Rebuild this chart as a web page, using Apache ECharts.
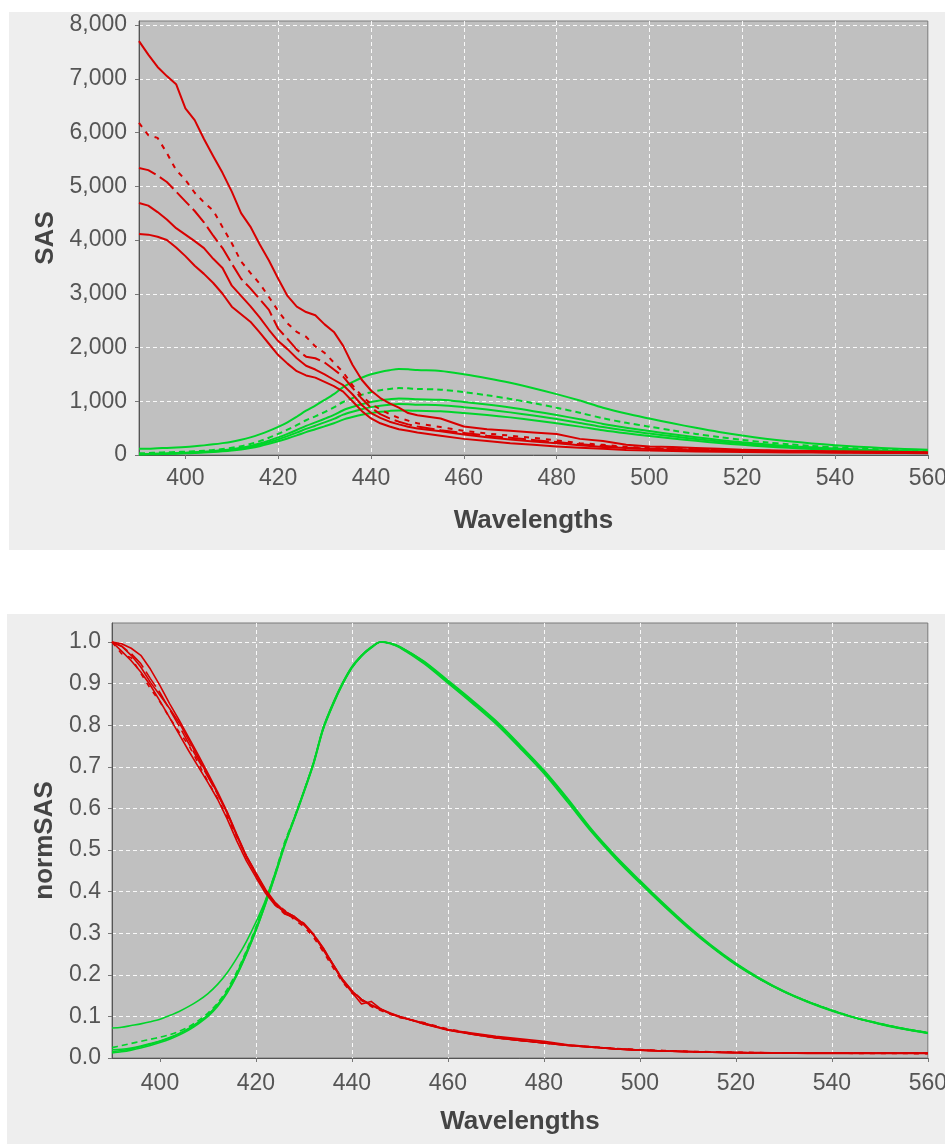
<!DOCTYPE html>
<html>
<head>
<meta charset="utf-8">
<script src="https://cdn.jsdelivr.net/npm/echarts@6/dist/echarts.min.js"></script>
<style>
html,body{margin:0;padding:0;background:#ffffff;}
#chart{width:950px;height:1144px;}
</style>
</head>
<body>
<div id="chart"></div>
<script>
// Wavelength grid shared by all series
const wavelengths = [390,392,394,396,398,400,402,404,406,408,410,412,414,416,418,420,422,424,426,428,430,432,434,436,438,440,442,444,446,448,450,
  455,460,465,470,475,480,485,490,495,500,505,510,515,520,525,530,535,540,545,550,555,560];

const xTicks = [400,420,440,460,480,500,520,540,560];

// ---- Top chart: SAS ----
const sasRed1 = [7700,7450,7220,7050,6900,6450,6230,5880,5560,5250,4900,4500,4250,3920,3620,3280,2960,2760,2660,2600,2430,2290,2030,1680,1400,1200,1060,960,880,780,740,
  680,530,480,450,420,390,300,260,190,160,150,130,115,100,90,80,75,70,65,60,55,50];
const sasRed2 = [6180,5950,5900,5620,5300,5120,4880,4700,4550,4240,3940,3600,3390,3190,2940,2680,2450,2290,2200,2020,1900,1720,1540,1300,1100,950,850,760,690,640,590,
  520,450,400,360,320,270,220,190,150,130,120,110,100,90,80,70,65,60,55,50,45,40];
const sasRed3 = [5340,5300,5200,5080,4900,4720,4540,4330,4080,3850,3560,3280,3100,2900,2700,2350,2160,1960,1830,1800,1720,1590,1460,1250,1050,880,760,680,620,570,530,
  460,410,360,320,280,240,200,170,140,120,110,100,90,80,75,70,60,55,50,45,40,40];
const sasRed4 = [4690,4640,4520,4380,4220,4100,3980,3850,3650,3480,3150,2960,2770,2560,2330,2120,1970,1800,1660,1590,1500,1400,1300,1130,930,780,690,620,570,525,495,
  440,380,330,290,250,220,180,150,130,110,100,90,80,75,70,60,55,50,45,40,40,35];
const sasRed5 = [4110,4100,4060,4000,3860,3700,3520,3370,3200,3000,2760,2620,2480,2280,2070,1860,1700,1560,1480,1440,1360,1280,1180,1000,820,680,590,530,480,450,420,
  360,300,260,220,190,160,135,115,95,85,75,65,60,55,50,48,45,42,40,38,35,32];

const sasGreen1 = [115,118,125,131,139,149,163,179,198,221,248,283,328,384,448,523,608,712,824,920,1024,1133,1264,1357,1437,1501,1546,1578,1600,1595,1581,
  1565,1504,1429,1344,1243,1133,1013,880,771,678,589,506,429,362,304,256,216,182,154,131,112,96];
const sasGreen2 = [31,37,44,50,56,62,70,80,93,112,134,164,205,258,321,392,471,554,647,720,799,884,986,1058,1119,1169,1204,1229,1245,1240,1229,
  1216,1169,1111,1043,965,879,786,683,599,527,457,392,334,281,237,199,169,143,121,103,88,76];
const sasGreen3 = [16,19,23,28,35,42,50,61,74,89,108,134,168,213,268,328,394,465,541,607,674,746,833,894,945,987,1016,1036,1050,1047,1037,
  1027,987,938,882,816,743,665,578,506,445,386,332,281,237,200,168,142,120,101,86,74,63];
const sasGreen4 = [19,20,23,28,33,39,47,56,67,82,99,122,151,190,238,291,352,416,485,545,606,671,750,805,852,891,918,937,950,946,937,
  927,890,845,793,733,668,597,519,454,399,347,297,253,213,180,151,127,107,91,77,66,56];
const sasGreen5 = [10,12,16,20,25,31,37,46,56,68,83,103,129,164,207,255,308,365,426,479,533,590,659,707,748,781,803,820,830,828,821,
  813,782,744,700,647,590,528,459,403,354,308,264,224,189,159,134,113,95,81,69,59,51];

// ---- Bottom chart: normSAS ----
const normRed1 = [1.000,0.978,0.955,0.928,0.896,0.858,0.818,0.778,0.738,0.700,0.662,0.622,0.575,0.522,0.474,0.434,0.396,0.367,0.352,0.340,0.321,0.297,0.265,0.226,0.186,0.158,0.130,0.136,0.118,0.106,0.098,
  0.084,0.068,0.060,0.052,0.046,0.040,0.032,0.027,0.022,0.019,0.017,0.016,0.014,0.013,0.012,0.012,0.011,0.011,0.011,0.011,0.011,0.011];
const normRed2 = [1.000,0.972,0.962,0.925,0.888,0.856,0.818,0.783,0.752,0.708,0.664,0.624,0.580,0.532,0.484,0.442,0.401,0.372,0.355,0.332,0.316,0.290,0.256,0.218,0.183,0.156,0.138,0.124,0.114,0.105,0.097,
  0.085,0.070,0.059,0.050,0.043,0.037,0.031,0.027,0.023,0.020,0.018,0.016,0.015,0.014,0.013,0.012,0.012,0.012,0.011,0.011,0.011,0.010];
const normRed3 = [1.000,0.990,0.972,0.948,0.912,0.878,0.838,0.798,0.756,0.716,0.676,0.634,0.590,0.536,0.486,0.444,0.402,0.368,0.346,0.338,0.324,0.298,0.264,0.226,0.190,0.162,0.141,0.127,0.116,0.107,0.099,
  0.082,0.068,0.057,0.049,0.042,0.036,0.030,0.026,0.022,0.019,0.017,0.015,0.014,0.013,0.012,0.012,0.012,0.012,0.012,0.012,0.012,0.012];
const normRed4 = [1.000,0.990,0.968,0.940,0.903,0.872,0.840,0.806,0.764,0.722,0.678,0.636,0.588,0.534,0.482,0.440,0.402,0.372,0.348,0.336,0.320,0.296,0.262,0.226,0.190,0.161,0.141,0.128,0.118,0.108,0.100,
  0.083,0.068,0.058,0.049,0.042,0.036,0.031,0.026,0.022,0.019,0.017,0.015,0.014,0.013,0.013,0.012,0.012,0.012,0.012,0.012,0.012,0.012];
const normRed5 = [1.000,0.996,0.985,0.968,0.935,0.895,0.852,0.812,0.770,0.728,0.684,0.640,0.592,0.538,0.486,0.445,0.405,0.374,0.352,0.340,0.322,0.296,0.260,0.224,0.188,0.160,0.140,0.126,0.117,0.107,0.099,
  0.082,0.067,0.057,0.048,0.042,0.036,0.030,0.026,0.022,0.019,0.017,0.015,0.014,0.013,0.012,0.012,0.012,0.012,0.012,0.012,0.012,0.012];

const normGreen1 = [0.072,0.074,0.078,0.082,0.087,0.093,0.102,0.112,0.124,0.138,0.155,0.177,0.205,0.240,0.280,0.327,0.380,0.445,0.515,0.575,0.640,0.708,0.790,0.848,0.898,0.938,0.966,0.986,1.000,0.997,0.988,
  0.952,0.905,0.858,0.808,0.750,0.689,0.620,0.546,0.482,0.424,0.368,0.316,0.268,0.226,0.190,0.160,0.135,0.114,0.096,0.082,0.070,0.060];
const normGreen2 = [0.025,0.030,0.035,0.040,0.045,0.050,0.056,0.064,0.075,0.090,0.108,0.132,0.165,0.207,0.258,0.315,0.378,0.445,0.520,0.578,0.642,0.710,0.792,0.850,0.899,0.939,0.967,0.987,1.000,0.996,0.987,
  0.950,0.903,0.856,0.806,0.748,0.687,0.618,0.545,0.481,0.423,0.367,0.315,0.268,0.226,0.190,0.160,0.136,0.115,0.097,0.083,0.071,0.061];
const normGreen3 = [0.015,0.018,0.022,0.027,0.033,0.040,0.048,0.058,0.070,0.085,0.103,0.128,0.160,0.203,0.255,0.312,0.375,0.443,0.515,0.578,0.642,0.710,0.793,0.851,0.900,0.940,0.968,0.987,1.000,0.997,0.988,
  0.952,0.905,0.858,0.808,0.750,0.689,0.620,0.546,0.482,0.424,0.368,0.316,0.268,0.226,0.190,0.160,0.135,0.114,0.096,0.082,0.070,0.060];
const normGreen4 = [0.020,0.021,0.024,0.029,0.035,0.041,0.049,0.059,0.071,0.086,0.104,0.128,0.159,0.200,0.250,0.306,0.370,0.438,0.510,0.574,0.638,0.706,0.789,0.847,0.897,0.938,0.966,0.986,1.000,0.996,0.986,
  0.948,0.901,0.853,0.803,0.745,0.684,0.614,0.542,0.478,0.420,0.365,0.313,0.266,0.224,0.189,0.159,0.134,0.113,0.096,0.081,0.069,0.059];
const normGreen5 = [0.012,0.015,0.019,0.024,0.030,0.037,0.045,0.055,0.067,0.082,0.100,0.124,0.156,0.198,0.249,0.307,0.371,0.440,0.513,0.577,0.642,0.711,0.794,0.852,0.901,0.941,0.968,0.988,1.000,0.997,0.989,
  0.954,0.908,0.861,0.811,0.753,0.692,0.623,0.549,0.485,0.427,0.371,0.318,0.270,0.228,0.192,0.161,0.136,0.115,0.097,0.083,0.071,0.061];

const RED = '#d80000';
const GREEN = '#00d42a';
const FONT = 'Liberation Sans';

function pairs(arr){ return wavelengths.map((w,i)=>[w, arr[i]]); }

function mkSeries(arr, color, dash, idx, width, smooth){
  return {
    type:'line', data:pairs(arr), xAxisIndex:idx, yAxisIndex:idx,
    showSymbol:false, symbol:'none', silent:true, clip:true, smooth:smooth || false,
    lineStyle:{color:color, width:width, type:dash || 'solid', cap:'butt', join:'round'},
    emphasis:{disabled:true}
  };
}

const series = [];
// greens first, reds on top
[[sasGreen5,null],[sasGreen4,null],[sasGreen3,null],[sasGreen2,[6,4]],[sasGreen1,null]].forEach(s=>series.push(mkSeries(s[0],GREEN,s[1],0,2,0.3)));
[[sasRed5,null],[sasRed4,null],[sasRed3,[18,5]],[sasRed2,[5,6]],[sasRed1,null]].forEach(s=>series.push(mkSeries(s[0],RED,s[1],0,2)));
[[normGreen5,null],[normGreen4,null],[normGreen3,null],[normGreen2,[6,4]],[normGreen1,null]].forEach(s=>series.push(mkSeries(s[0],GREEN,s[1],1,1.6,0.3)));
[[normRed5,null],[normRed4,null],[normRed3,[18,5]],[normRed2,[5,6]],[normRed1,null]].forEach(s=>series.push(mkSeries(s[0],RED,s[1],1,1.6)));

function xAxisCfg(idx, margin, gap){
  return {
    type:'value', gridIndex:idx, min:390, max:560,
    axisLine:{show:true, lineStyle:{color:'#555555', width:1}},
    axisTick:{show:true, customValues:xTicks, length:4, lineStyle:{color:'#777777'}},
    axisLabel:{customValues:xTicks, fontSize:23, color:'#555555', fontFamily:FONT, margin:margin},
    splitLine:{show:true, showMinLine:false, showMaxLine:false, lineStyle:{color:'#ffffff', type:[4,3], width:1, opacity:0.9}},
    name:'Wavelengths', nameLocation:'middle', nameGap:gap,
    nameTextStyle:{fontSize:26, fontWeight:'bold', color:'#444444', fontFamily:FONT}
  };
}

function fmtThousands(v){
  return String(v).replace(/\B(?=(\d{3})+(?!\d))/g, ',');
}

const option = {
  animation:false,
  backgroundColor:'#ffffff',
  graphic:[
    {type:'rect', z:-100, shape:{x:9,y:12,width:936,height:538}, style:{fill:'#eeeeee'}},
    {type:'rect', z:-100, shape:{x:7,y:614,width:938,height:530}, style:{fill:'#eeeeee'}},
    {type:'rect', z:1000, zlevel:1, shape:{x:945,y:0,width:5,height:1144}, style:{fill:'#ffffff'}}
  ],
  grid:[
    {left:139, top:21, width:793, height:434, show:true, backgroundColor:'#c0c0c0', borderColor:'#7a7a7a', borderWidth:1},
    {left:112, top:623, width:822, height:435, show:true, backgroundColor:'#c0c0c0', borderColor:'#7a7a7a', borderWidth:1}
  ],
  xAxis:[ xAxisCfg(0, 12, 53), xAxisCfg(1, 14, 51) ],
  yAxis:[
    {
      type:'value', gridIndex:0, min:0, max:8075, interval:1000,
      axisLine:{show:true, lineStyle:{color:'#555555'}},
      axisTick:{show:true, length:4, lineStyle:{color:'#777777'}},
      axisLabel:{fontSize:23, color:'#555555', fontFamily:FONT, margin:12, showMaxLabel:false,
        formatter:function(v){ return (Math.abs(v % 1000) < 1e-6) ? fmtThousands(v) : ''; }},
      splitLine:{show:true, showMinLine:false, showMaxLine:false, lineStyle:{color:'#ffffff', type:[4,3], width:1, opacity:0.9}},
      name:'SAS', nameLocation:'middle', nameGap:80,
      nameTextStyle:{fontSize:26, fontWeight:'bold', color:'#444444', fontFamily:FONT}
    },
    {
      type:'value', gridIndex:1, min:0, max:1.0457, interval:0.1,
      axisLine:{show:true, lineStyle:{color:'#555555'}},
      axisTick:{show:true, length:4, lineStyle:{color:'#777777'}},
      axisLabel:{fontSize:23, color:'#555555', fontFamily:FONT, margin:11, showMaxLabel:false,
        formatter:function(v){ const t=v*10; return (Math.abs(t-Math.round(t))<1e-6) ? v.toFixed(1) : ''; }},
      splitLine:{show:true, showMinLine:false, showMaxLine:false, lineStyle:{color:'#ffffff', type:[4,3], width:1, opacity:0.9}},
      name:'normSAS', nameLocation:'middle', nameGap:53,
      nameTextStyle:{fontSize:26, fontWeight:'bold', color:'#444444', fontFamily:FONT}
    }
  ],
  series:series
};

const chart = echarts.init(document.getElementById('chart'), null, {renderer:'canvas'});
chart.setOption(option);
</script>
</body>
</html>
